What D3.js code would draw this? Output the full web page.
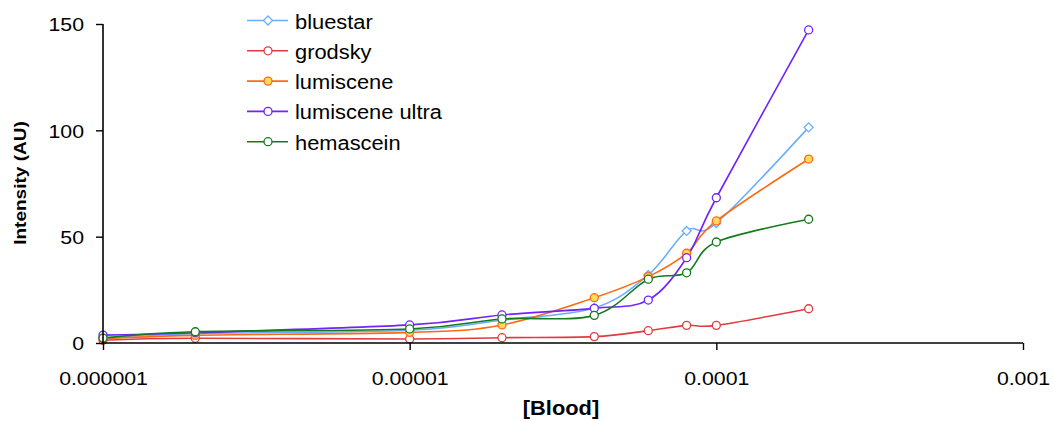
<!DOCTYPE html>
<html><head><meta charset="utf-8">
<script src="https://cdn.jsdelivr.net/npm/d3@7"></script>
<style>body{margin:0;background:#fff;} text{font-family:"Liberation Sans",Arial,sans-serif;}</style>
</head><body><svg id="c" width="1053" height="421"></svg>
<script>
const concentrations = [1e-6, 2e-6, 1e-5, 2e-5, 4e-5, 6e-5, 8e-5, 1e-4, 2e-4];
const seriesNames = ["bluestar", "grodsky", "lumiscene", "lumiscene ultra", "hemascein"];
const bluestar = [2.5, 4.4, 6.0, 10.8, 16.5, 32.0, 52.7, 56.4, 101.4];
const grodsky = [1.3, 2.2, 1.9, 2.5, 3.0, 5.8, 8.3, 8.3, 16.1];
const lumiscene = [2.0, 3.6, 5.0, 8.5, 21.3, 31.2, 42.2, 57.4, 86.5];
const lumisceneUltra = [3.7, 4.8, 8.5, 13.2, 16.3, 20.2, 40.1, 68.3, 147.2];
const hemascein = [2.3, 5.3, 6.6, 11.3, 13.0, 30.0, 33.0, 47.5, 58.2];
const xTicks = [1e-6, 1e-5, 1e-4, 1e-3];
const xTickLabels = ["0.000001", "0.00001", "0.0001", "0.001"];
const yTicks = [0, 50, 100, 150];

const seriesValues = [bluestar, grodsky, lumiscene, lumisceneUltra, hemascein];
const styles = [
  {stroke:"#6aaeff", fill:"#fff", shape:"diamond"},
  {stroke:"#e23a40", fill:"#fff", shape:"circle"},
  {stroke:"#ff6a10", fill:"#ffd966", shape:"circle"},
  {stroke:"#7022ff", fill:"#fff", shape:"circle"},
  {stroke:"#147a1c", fill:"#fff", shape:"circle"}
];
const STRETCH = 1.12;

const svg = d3.select("#c");
const x = d3.scaleLog().domain([1e-6, 1e-3]).range([103, 1023]);
const y = d3.scaleLinear().domain([0, 150]).range([343, 24]);

function stretch(sel) {
  sel.each(function() {
    const w = this.getComputedTextLength();
    d3.select(this).attr("textLength", w * STRETCH).attr("lengthAdjust", "spacingAndGlyphs");
  });
}

const line = d3.line().x(d => x(d[0])).y(d => y(d[1])).curve(d3.curveCatmullRom.alpha(0));

seriesValues.forEach((vals, i) => {
  const pts = concentrations.map((c, j) => [c, vals[j]]);
  svg.append("path").attr("d", line(pts)).attr("fill", "none")
    .attr("stroke", styles[i].stroke).attr("stroke-width", 1.6);
});

function marker(g, cx, cy, st) {
  if (st.shape === "diamond") {
    g.append("path").attr("d", `M${cx},${cy-4.5}L${cx+4.5},${cy}L${cx},${cy+4.5}L${cx-4.5},${cy}Z`)
      .attr("fill", st.fill).attr("stroke", st.stroke).attr("stroke-width", 1.3);
  } else {
    g.append("circle").attr("cx", cx).attr("cy", cy).attr("r", 4)
      .attr("fill", st.fill).attr("stroke", st.stroke).attr("stroke-width", 1.3);
  }
}

seriesValues.forEach((vals, i) => {
  const g = svg.append("g");
  concentrations.forEach((c, j) => marker(g, x(c), y(vals[j]), styles[i]));
});

// axes
const xAxis = d3.axisBottom(x).tickValues(xTicks).tickFormat((d, i) => xTickLabels[i]).tickSize(7).tickPadding(22);
const gx = svg.append("g").attr("transform", "translate(0,343)").call(xAxis);
gx.select(".domain").attr("stroke", "#000").attr("stroke-width", 1.6).attr("d", "M103,0H1023");
gx.selectAll(".tick line").attr("stroke", "#000").attr("stroke-width", 1.4);
gx.selectAll(".tick text").attr("font-size", 19).attr("fill", "#000").attr("font-family", "Liberation Sans, Arial, sans-serif").call(stretch);

const yAxis = d3.axisLeft(y).tickValues(yTicks).tickSize(7).tickPadding(12);
const gy = svg.append("g").attr("transform", "translate(103,0)").call(yAxis);
gy.select(".domain").attr("stroke", "#000").attr("stroke-width", 1.6).attr("d", "M0,24V343");
gy.selectAll(".tick line").attr("stroke", "#000").attr("stroke-width", 1.4);
gy.selectAll(".tick text").attr("font-size", 19).attr("dy", "0.36em").attr("fill", "#000").attr("font-family", "Liberation Sans, Arial, sans-serif").call(stretch);

// axis titles
svg.append("text").attr("x", 561).attr("y", 415).attr("text-anchor", "middle")
  .attr("font-size", 19.5).attr("font-weight", "bold").text("[Blood]").call(stretch);
svg.append("text").attr("transform", "translate(26,183) rotate(-90)").attr("text-anchor", "middle")
  .attr("font-size", 17).attr("font-weight", "bold").text("Intensity (AU)").call(stretch);

// legend
seriesNames.forEach((name, i) => {
  const ly = 20.5 + i * 30.3;
  const g = svg.append("g");
  g.append("line").attr("x1", 247).attr("x2", 288).attr("y1", ly).attr("y2", ly)
    .attr("stroke", styles[i].stroke).attr("stroke-width", 1.6);
  marker(g, 268, ly, styles[i]);
  g.append("text").attr("x", 295).attr("y", ly + 8).attr("font-size", 19.5).attr("fill", "#000").text(name).call(stretch);
});
</script></body></html>
